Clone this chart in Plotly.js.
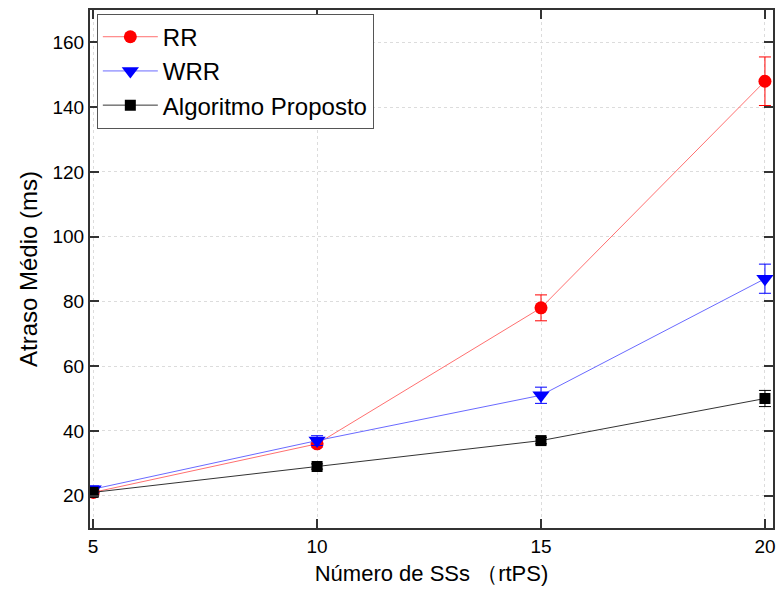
<!DOCTYPE html>
<html>
<head>
<meta charset="utf-8">
<script src="https://cdn.plot.ly/plotly-3.0.1.min.js"></script>
<style>html,body{margin:0;padding:0;background:#fff;}#chart{width:778px;height:592px;}</style>
</head>
<body>
<div id="chart"></div>
<script>
const xValues = [5, 10, 15, 20];
const seriesNames = ["RR", "WRR", "Algoritmo Proposto"];
const rrValues = [21, 36, 78, 148];
const rrErrors = [1, 1, 4, 7.5];
const wrrValues = [22, 37, 51, 87];
const wrrErrors = [1, 1.5, 2.5, 4.5];
const propValues = [21, 29, 37, 50];
const propErrors = [0.8, 0.8, 1, 2.5];
const xTicks = [5, 10, 15, 20];
const yTicks = [20, 40, 60, 80, 100, 120, 140, 160];

const FONT = "Liberation Sans, Arial, sans-serif";

function trace(name, y, err, lineColor, markColor, symbol, size) {
  return {
    x: xValues, y: y, name: name, type: 'scatter', mode: 'lines+markers',
    line: {color: lineColor, width: 1},
    marker: {color: markColor, symbol: symbol, size: size},
    error_y: {type: 'data', array: err, visible: true, color: markColor, thickness: 1, width: 6}
  };
}

const data = [
  trace(seriesNames[0], rrValues, rrErrors, '#ff7070', '#ff0000', 'circle', 13),
  trace(seriesNames[1], wrrValues, wrrErrors, '#6a6aff', '#0000ff', 'triangle-down', 15),
  trace(seriesNames[2], propValues, propErrors, '#333333', '#000000', 'square', 11)
];

const axisCommon = {
  showline: true, linecolor: '#333', linewidth: 2, mirror: 'ticks',
  ticks: 'inside', ticklen: 9, tickwidth: 2, tickcolor: '#333',
  showgrid: true, gridcolor: '#dcdcdc', griddash: 'dot', gridwidth: 1,
  zeroline: false, tickfont: {family: FONT, size: 19, color: '#000'}
};

const layout = {
  width: 778, height: 592,
  margin: {l: 90, r: 5, t: 10, b: 64},
  paper_bgcolor: '#fff', plot_bgcolor: '#fff',
  showlegend: true,
  legend: {
    x: 0.01, y: 0.993, xanchor: 'left', yanchor: 'top',
    bgcolor: '#fff', bordercolor: '#555', borderwidth: 1,
    font: {family: FONT, size: 24, color: '#000'},
    tracegroupgap: 0, itemwidth: 55
  },
  xaxis: Object.assign({}, axisCommon, {
    range: [4.93, 20.18], tickvals: xTicks, ticktext: xTicks.map(String),
    title: {text: 'Número de SSs （rtPS)', font: {family: FONT, size: 22, color: '#000'}, standoff: 10}
  }),
  yaxis: Object.assign({}, axisCommon, {
    range: [10, 170], tickvals: yTicks, ticktext: yTicks.map(String),
    title: {text: 'Atraso Médio (ms)', font: {family: FONT, size: 24, color: '#000'}, standoff: 8}
  })
};

Plotly.newPlot('chart', data, layout, {displayModeBar: false, staticPlot: true});
</script>
</body>
</html>
